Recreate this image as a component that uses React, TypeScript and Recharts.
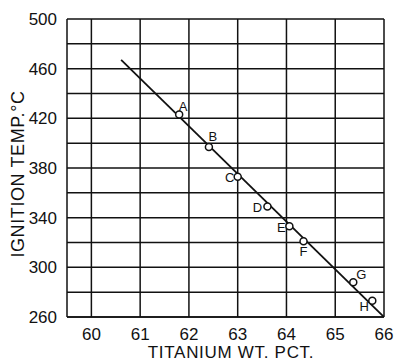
import React from "react";
import {
  ComposedChart,
  Scatter,
  Line,
  XAxis,
  YAxis,
  CartesianGrid,
  LabelList,
} from "recharts";

// measured points
const pointNames = ["A", "B", "C", "D", "E", "F", "G", "H"];
const titanium = [61.8, 62.41, 63.0, 63.61, 64.06, 64.35, 65.37, 65.76];
const ignitionTemp = [423, 397, 373, 349, 333, 321, 288, 273];

// drawn trend line end points
const fitTitanium = [60.61, 66.0];
const fitTemp = [467, 260];

const xTicks = [60, 61, 62, 63, 64, 65, 66];
const yGridTicks = [260, 280, 300, 320, 340, 360, 380, 400, 420, 440, 460, 480, 500];
const yLabelTicks = [260, 300, 340, 380, 420, 460, 500];

const points = pointNames.map((name, i) => ({ name, x: titanium[i], y: ignitionTemp[i] }));
const fitLine = fitTitanium.map((x, i) => ({ x, y: fitTemp[i] }));

const labelOffset: Record<string, [number, number]> = {
  A: [4, -9],
  B: [4, -11],
  C: [-8, 0],
  D: [-10, 1],
  E: [-8, 1],
  F: [0, 10],
  G: [8, -8],
  H: [-8, 5],
};

const font = "'Liberation Sans', Arial, sans-serif";

const YTick = (props: any) => {
  const { x, y, payload } = props;
  if (!yLabelTicks.includes(payload.value)) return null;
  return (
    <text x={x - 2} y={y} dy={6} textAnchor="end" fontSize={17} fontFamily={font} fill="#111">
      {payload.value}
    </text>
  );
};

const XTick = (props: any) => {
  const { x, y, payload } = props;
  return (
    <text x={x} y={y} dy={15} textAnchor="middle" fontSize={17} fontFamily={font} fill="#111">
      {payload.value}
    </text>
  );
};

const PointLabel = (props: any) => {
  const { x, y, width, height, value } = props;
  const cx = x + (width || 0) / 2;
  const cy = y + (height || 0) / 2;
  const [dx, dy] = labelOffset[value] || [0, 0];
  return (
    <text x={cx + dx} y={cy + dy} dy={5} textAnchor="middle" fontSize={13} fontFamily={font} fill="#111">
      {value}
    </text>
  );
};

const OpenDot = (props: any) => {
  const { cx, cy } = props;
  return <circle cx={cx} cy={cy} r={3.5} fill="#fff" stroke="#111" strokeWidth={1.5} />;
};

const YTitle = () => (
  <text
    x={24}
    y={174}
    transform="rotate(-90 24 174)"
    textAnchor="middle"
    fontSize={18}
    letterSpacing={0.6}
    fontFamily={font}
    fill="#111"
  >
    IGNITION TEMP.°C
  </text>
);

const XTitle = () => (
  <text
    x={231}
    y={358}
    textAnchor="middle"
    fontSize={17}
    letterSpacing={0.7}
    fontFamily={font}
    fill="#111"
  >
    TITANIUM WT. PCT.
  </text>
);

export default function App() {
  return (
    <div style={{ position: "absolute", left: 0, top: 0, background: "#fff" }}>
      <ComposedChart
        width={394}
        height={361}
        margin={{ top: 19, right: 10, left: 0, bottom: 0 }}
      >
        <CartesianGrid stroke="#111" strokeWidth={1.5} horizontalValues={yGridTicks} verticalValues={xTicks} />
        <XAxis
          type="number"
          dataKey="x"
          domain={[59.5, 66]}
          ticks={xTicks}
          allowDataOverflow
          height={44}
          tickLine={false}
          axisLine={{ stroke: "#111", strokeWidth: 1.5 }}
          tick={<XTick />}
          label={<XTitle />}
        />
        <YAxis
          type="number"
          dataKey="y"
          domain={[260, 500]}
          ticks={yGridTicks}
          allowDataOverflow
          width={67}
          tickLine={false}
          axisLine={{ stroke: "#111", strokeWidth: 1.5 }}
          tick={<YTick />}
          label={<YTitle />}
        />
        <Line
          data={fitLine}
          dataKey="y"
          stroke="#111"
          strokeWidth={1.8}
          dot={false}
          activeDot={false}
          isAnimationActive={false}
        />
        <Scatter data={points} dataKey="y" shape={<OpenDot />} isAnimationActive={false}>
          <LabelList dataKey="name" content={<PointLabel />} />
        </Scatter>
      </ComposedChart>
    </div>
  );
}
